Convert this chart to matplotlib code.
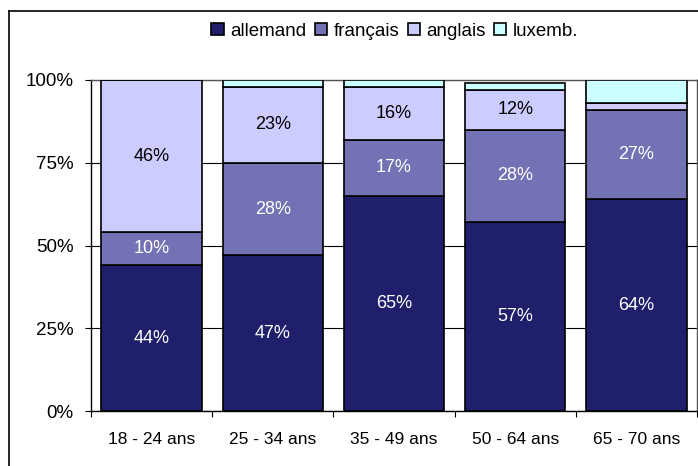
import numpy as np
import matplotlib
matplotlib.use("Agg")
import matplotlib.pyplot as plt
from matplotlib.lines import Line2D

plt.rcParams["font.family"] = ["Liberation Sans", "DejaVu Sans"]

# data (percent)
age_groups = ["18 - 24 ans", "25 - 34 ans", "35 - 49 ans", "50 - 64 ans", "65 - 70 ans"]
series_names = ["allemand", "français", "anglais", "luxemb."]
allemand = [44, 47, 65, 57, 64]
francais = [10, 28, 17, 28, 27]
anglais = [46, 23, 16, 12, 2]
luxemb = [0, 2, 2, 2, 7]
y_ticks = [0, 25, 50, 75, 100]

colors = ["#1f1f6b", "#7272b4", "#ccccff", "#ccffff"]
text_colors = ["white", "white", "black", "black"]
show_label = [True, True, True, False]

fig = plt.figure(figsize=(6.98, 4.66), dpi=100)
ax = fig.add_axes([91 / 698, 1 - 411 / 466, 606 / 698, 331 / 466])

x = np.arange(len(age_groups))
bottom = np.zeros(len(age_groups))
for name, vals, col, tcol, show in zip(series_names, [allemand, francais, anglais, luxemb],
                                       colors, text_colors, show_label):
    vals = np.array(vals, dtype=float)
    ax.bar(x, vals, width=0.83, bottom=bottom, color=col, edgecolor="black",
           linewidth=1.2, label=name, zorder=3)
    if show:
        for xi, b, v in zip(x, bottom, vals):
            if v >= 10:
                ax.text(xi, b + v / 2, f"{int(v)}%", ha="center", va="center",
                        color=tcol, fontsize=13, zorder=4)
    bottom += vals

ax.set_xlim(-0.5, len(age_groups) - 0.5)
ax.set_ylim(0, 100)
ax.set_yticks(y_ticks)
ax.set_yticklabels([f"{t}%" for t in y_ticks])
ax.set_xticks(x)
ax.set_xticklabels(age_groups)
ax.set_xticks(np.arange(len(age_groups) + 1) - 0.5, minor=True)
ax.tick_params(axis="x", which="major", length=0, pad=15, labelsize=12.5)
ax.tick_params(axis="x", which="minor", length=4, width=0.8, direction="out")
ax.tick_params(axis="y", length=4.5, width=0.8, direction="out", pad=8, labelsize=13.5)
ax.yaxis.grid(True, color="black", linewidth=0.8, zorder=0)

for side in ["left", "bottom"]:
    ax.spines[side].set_color("black")
    ax.spines[side].set_linewidth(1.0)
for side in ["top", "right"]:
    ax.spines[side].set_color("#555555")
    ax.spines[side].set_linewidth(1.0)

handles, labels = ax.get_legend_handles_labels()
fig.legend(handles, labels, loc="center", bbox_to_anchor=(395 / 698, 1 - 31 / 466),
           ncol=4, frameon=False, fontsize=13.5, handlelength=0.65, handleheight=0.65,
           handletextpad=0.35, columnspacing=0.45)

# outer chart border (left and top only visible)
fig.add_artist(Line2D([9 / 698, 9 / 698], [0, 1 - 11 / 466], color="black", linewidth=1.2))
fig.add_artist(Line2D([9 / 698, 1], [1 - 11 / 466, 1 - 11 / 466], color="black", linewidth=1.2))

fig.savefig("out.png", dpi=100)
